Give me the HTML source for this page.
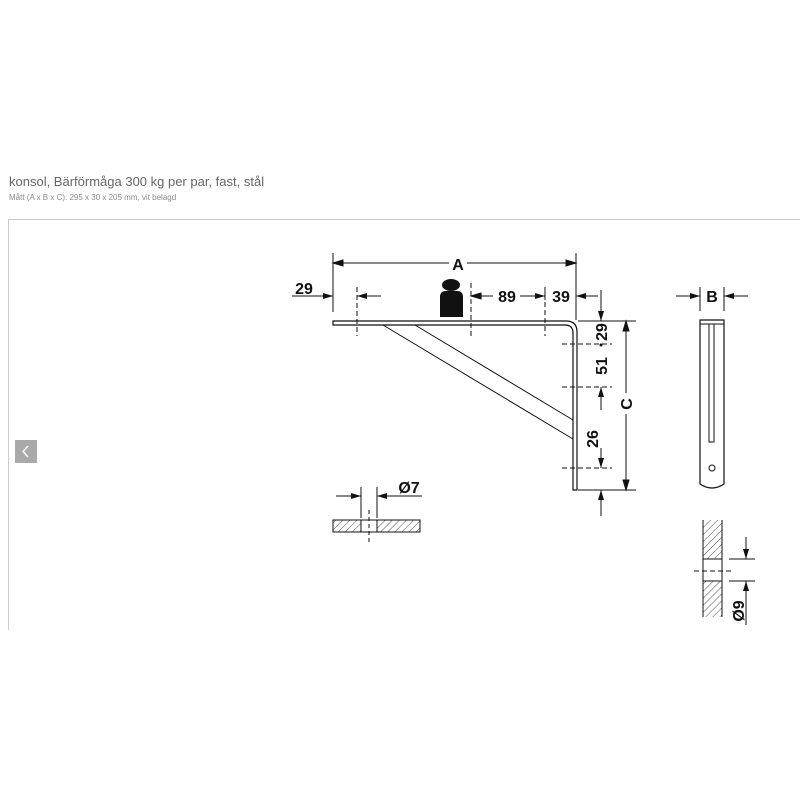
<!DOCTYPE html>
<html><head><meta charset="utf-8"><style>
html,body{margin:0;padding:0;background:#fff;width:800px;height:800px;overflow:hidden}
svg{position:absolute;left:0;top:0}
</style></head><body>
<svg width="800" height="800" viewBox="0 0 800 800" xmlns="http://www.w3.org/2000/svg">
<defs>
<pattern id="h" width="5" height="5" patternUnits="userSpaceOnUse" patternTransform="rotate(45)"><line x1="0" y1="0" x2="0" y2="5" stroke="#222" stroke-width="0.8"/></pattern>
<marker id="ar" markerWidth="10" markerHeight="6" refX="10" refY="3" orient="auto" markerUnits="userSpaceOnUse"><path d="M0,0 L10,3 L0,6 z" fill="#111"/></marker>
</defs>
<text x="9" y="186" font-family="Liberation Sans, sans-serif" font-size="13" fill="#666">konsol, Bärförmåga 300 kg per par, fast, stål</text>
<text x="9" y="200" font-family="Liberation Sans, sans-serif" font-size="8" fill="#888">Mått (A x B x C): 295 x 30 x 205 mm, vit belagd</text>
<line x1="8" y1="219.5" x2="800" y2="219.5" stroke="#ccc"/>
<line x1="8.5" y1="219" x2="8.5" y2="630" stroke="#ccc"/>
<rect x="15" y="440" width="22" height="23" fill="#a9a9a9"/>
<path d="M28,446 L23,451.5 L28,457" stroke="#fff" stroke-width="1.5" fill="none"/>

<g stroke="#111" stroke-width="1" fill="none" font-family="Liberation Sans, sans-serif">
<!-- A -->
<line x1="333" y1="253" x2="333" y2="312"/>
<line x1="576" y1="253" x2="576" y2="320"/>
<line x1="333" y1="263" x2="448" y2="263" marker-start="url(#ar)" style="marker-start:none"/>
<path d="M343,260 L333,263 L343,266z M566,260 L576,263 L566,266z" fill="#111"/>
<line x1="333" y1="263" x2="449" y2="263"/><line x1="467" y1="263" x2="576" y2="263"/>
<!-- 29 left -->
<line x1="292" y1="296" x2="333" y2="296" marker-end="url(#ar)"/>
<line x1="381" y1="296" x2="357" y2="296" marker-end="url(#ar)"/>
<!-- 89 -->
<line x1="471" y1="296" x2="493" y2="296"/><path d="M481,293 L471,296 L481,299z" fill="#111"/>
<line x1="520" y1="296" x2="545" y2="296" marker-end="url(#ar)"/>
<line x1="598" y1="296" x2="576" y2="296" marker-end="url(#ar)"/>
<line x1="545" y1="287" x2="545" y2="300"/>
<!-- hole dashes top -->
<g stroke-dasharray="5,3"><line x1="357" y1="287" x2="357" y2="336"/><line x1="471" y1="283" x2="471" y2="336"/><line x1="545" y1="302" x2="545" y2="336"/></g>
<!-- shelf -->
<path d="M333,321 L566,321 Q577,321 577,332 L577,490 L573,490 L573,333 Q573,325 565,325 L333,325 Z" stroke-width="1.2"/>
<line x1="383" y1="325" x2="573" y2="439"/>
<line x1="415" y1="325" x2="573" y2="420"/>
<!-- right dims -->
<line x1="578" y1="321" x2="636" y2="321"/>
<line x1="578" y1="490" x2="636" y2="490"/>
<g stroke-dasharray="5,3"><line x1="562" y1="344" x2="612" y2="344"/><line x1="562" y1="387" x2="612" y2="387"/><line x1="562" y1="468" x2="612" y2="468"/></g>
<line x1="601" y1="290" x2="601" y2="321" marker-end="url(#ar)"/>
<line x1="601" y1="410" x2="601" y2="387" marker-end="url(#ar)"/>
<line x1="601" y1="448" x2="601" y2="468" marker-end="url(#ar)"/>
<line x1="601" y1="516" x2="601" y2="490" marker-end="url(#ar)"/>
<line x1="626" y1="321" x2="626" y2="393"/><line x1="626" y1="414" x2="626" y2="490"/>
<path d="M623,331 L626,321 L629,331z M623,480 L626,490 L629,480z" fill="#111"/>
<!-- side view -->
<line x1="700" y1="287" x2="700" y2="311"/><line x1="724" y1="287" x2="724" y2="311"/>
<line x1="676" y1="296" x2="700" y2="296" marker-end="url(#ar)"/>
<line x1="748" y1="296" x2="724" y2="296" marker-end="url(#ar)"/>
<path d="M700,320 L724,320 L724,484 Q712,492 700,484 Z" stroke-width="1.2"/>
<line x1="700" y1="324" x2="724" y2="324"/>
<rect x="709" y="324" width="5" height="118"/>
<circle cx="712" cy="468" r="3"/>
<!-- lower section -->
<rect x="703" y="520" width="19" height="39" fill="url(#h)" stroke="none"/>
<rect x="703" y="581" width="19" height="36" fill="url(#h)" stroke="none"/>
<line x1="703" y1="520" x2="703" y2="617"/><line x1="722" y1="520" x2="722" y2="617"/>
<line x1="703" y1="559" x2="722" y2="559"/><line x1="703" y1="581" x2="722" y2="581"/>
<line x1="694" y1="571" x2="732" y2="571" stroke-dasharray="5,3"/>
<line x1="729" y1="559" x2="755" y2="559"/><line x1="729" y1="581" x2="755" y2="581"/>
<line x1="746" y1="537" x2="746" y2="559" marker-end="url(#ar)"/>
<line x1="746" y1="625" x2="746" y2="581" marker-end="url(#ar)"/>
<!-- O7 section -->
<rect x="333" y="520" width="28" height="12" fill="url(#h)"/>
<rect x="377" y="520" width="43" height="12" fill="url(#h)"/>
<rect x="361" y="520" width="16" height="12"/>
<line x1="369" y1="510" x2="369" y2="542" stroke-dasharray="4,3"/>
<line x1="361" y1="487" x2="361" y2="518"/><line x1="377" y1="487" x2="377" y2="518"/>
<line x1="336" y1="496" x2="361" y2="496" marker-end="url(#ar)"/>
<line x1="422" y1="496" x2="377" y2="496" marker-end="url(#ar)"/>
</g>
<!-- weight -->
<ellipse cx="451" cy="285" rx="9" ry="6" fill="#111"/>
<path d="M440,317 L440,297 Q440,291 446,291 L457,291 Q463,291 463,297 L463,317 Z" fill="#111"/>
<g font-family="Liberation Sans, sans-serif" font-weight="bold" font-size="16" fill="#111">
<text x="458" y="270" text-anchor="middle">A</text>
<text x="304" y="294" text-anchor="middle">29</text>
<text x="507" y="302" text-anchor="middle">89</text>
<text x="561" y="302" text-anchor="middle">39</text>
<text x="712" y="302" text-anchor="middle">B</text>
<text x="409" y="493" text-anchor="middle">Ø7</text>
<text transform="translate(607,332) rotate(-90)" text-anchor="middle">29</text>
<text transform="translate(607,366) rotate(-90)" text-anchor="middle">51</text>
<text transform="translate(598,439) rotate(-90)" text-anchor="middle">26</text>
<text transform="translate(632,404) rotate(-90)" text-anchor="middle">C</text>
<text transform="translate(744,611) rotate(-90)" text-anchor="middle">Ø9</text>
</g>
<circle cx="601" cy="345" r="1.5" fill="#111"/>
</svg>
</body></html>
